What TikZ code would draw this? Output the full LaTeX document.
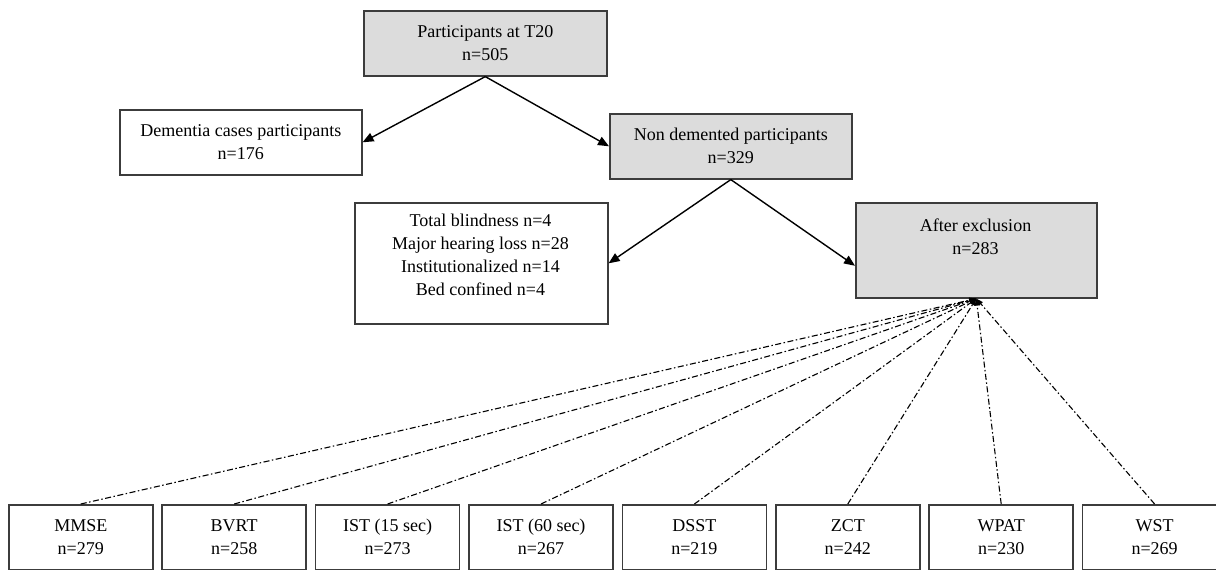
\documentclass[tikz,border=0pt]{standalone}
\usepackage{fontspec}
\setmainfont{Liberation Serif}
\usetikzlibrary{arrows.meta,calc}
\definecolor{boxline}{HTML}{3C3C3C}
\definecolor{boxfill}{HTML}{DCDCDC}
\begin{document}
\begin{tikzpicture}[x=1pt,y=-1pt,
  box/.style={draw=boxline,line width=1.6pt,inner sep=0pt,anchor=north west},
  graybox/.style={box,fill=boxfill},
  lbl/.style={align=center,font=\fontsize{18}{23}\selectfont},
  arr/.style={line width=1.4pt,-{Triangle[length=11pt,width=9pt]}},
  darr/.style={line width=1.1pt,dash pattern=on 6pt off 2.5pt on 1.5pt off 2.5pt,-{Triangle[length=7pt,width=5pt]}}]
\useasboundingbox (0,0) rectangle (1216,570);
% top row
\node[graybox,lbl,minimum width=243pt,minimum height=65pt] (top) at (363,10) {Participants at T20\\n=505};
\node[box,lbl,minimum width=242pt,minimum height=65pt] (dem) at (119,109) {Dementia cases participants\\n=176};
\node[graybox,lbl,minimum width=242pt,minimum height=65pt] (nond) at (609,113) {Non demented participants\\n=329};
% exclusion row
\node[box,minimum width=253pt,minimum height=121pt] (excl) at (354,202) {};
\node[lbl,inner sep=0pt] (excltxt) at (480.5,255) {Total blindness n=4\\Major hearing loss n=28\\Institutionalized n=14\\Bed confined n=4};
\node[graybox,minimum width=241pt,minimum height=95pt] (after) at (855,202) {};
\node[lbl,inner sep=0pt] (aftertxt) at (975.5,236.5) {After exclusion\\n=283};
% solid arrows
\draw[arr] (top.south) -- (dem.east);
\draw[arr] (top.south) -- (nond.west);
\draw[arr] (nond.south) -- (excl.east);
\draw[arr] (nond.south) -- ($(after.north west)!0.66!(after.south west)$);
% bottom row
\foreach \bx/\bt/\bn in {0/MMSE/279,1/BVRT/258,2/IST (15 sec)/273,3/IST (60 sec)/267,4/DSST/219,5/ZCT/242,6/WPAT/230,7/WST/269} {
  \node[box,lbl,minimum width=144pt,minimum height=65pt] (b\bx) at ({8+153.4*\bx},504) {\bt\\n=\bn};
  \draw[darr] (b\bx.north) -- (after.south);
}
\end{tikzpicture}
\end{document}
